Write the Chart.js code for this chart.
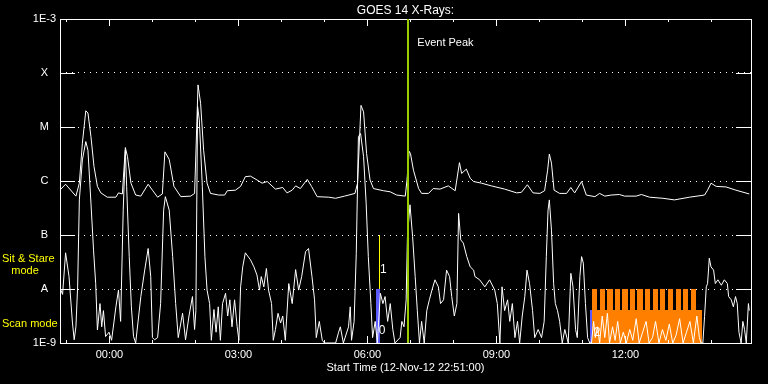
<!DOCTYPE html>
<html>
<head>
<meta charset="utf-8">
<script src="https://cdn.jsdelivr.net/npm/chart.js@4.4.1/dist/chart.umd.min.js"></script>
<style>
  html, body { margin: 0; padding: 0; background: #000; }
  #wrap { width: 768px; height: 384px; }
</style>
</head>
<body>
<div id="wrap"><canvas id="goesChart" width="768" height="384"></canvas></div>
<script>
// GOES 14 flux as log10(W/m^2); time in hours from 00:00 (plot starts 22:51 the day before)
const longHours = [
    -1.13, -1.02, -0.78, -0.70, -0.63, -0.55, -0.50, -0.43, -0.36, -0.28,
    -0.20, -0.05, 0.15, 0.21, 0.30, 0.37, 0.42, 0.50, 0.61, 0.73,
    0.90, 1.00, 1.12, 1.23, 1.29, 1.39, 1.50, 1.66, 1.89, 1.98,
    2.01, 2.06, 2.12, 2.19, 2.27, 2.35, 2.54, 2.68, 2.74, 2.93,
    3.05, 3.16, 3.28, 3.43, 3.55, 3.67, 3.86, 4.03, 4.13, 4.25,
    4.33, 4.44, 4.60, 4.70, 4.83, 5.10, 5.26, 5.47, 5.71, 5.77,
    5.85, 5.91, 5.98, 6.06, 6.14, 6.37, 6.53, 6.68, 6.88, 6.92,
    6.97, 7.00, 7.07, 7.19, 7.26, 7.42, 7.53, 7.69, 7.88, 8.04,
    8.14, 8.19, 8.30, 8.39, 8.47, 8.65, 8.88, 9.19, 9.47, 9.58,
    9.72, 9.85, 10.01, 10.12, 10.19, 10.23, 10.28, 10.34, 10.47, 10.63,
    10.73, 10.82, 10.98, 11.09, 11.29, 11.40, 11.52, 11.67, 11.86, 11.98,
    12.25, 12.37, 12.56, 12.87, 13.14, 13.49, 13.84, 13.91, 13.99, 14.11,
    14.34, 14.57, 14.88
];
const longLog = [
    -6.15, -6.06, -6.28, -6.04, -5.30, -4.70, -4.74, -5.18, -5.73, -6.10,
    -6.22, -6.30, -6.30, -6.22, -6.24, -5.38, -5.55, -6.04, -6.26, -6.28,
    -6.06, -6.17, -6.30, -6.24, -5.46, -5.60, -6.10, -6.29, -6.28, -6.23,
    -5.50, -4.22, -4.56, -5.43, -6.04, -6.23, -6.26, -6.26, -6.18, -6.17,
    -6.10, -5.92, -5.91, -5.98, -6.04, -6.01, -6.15, -6.12, -6.22, -6.17,
    -6.09, -6.14, -5.97, -6.10, -6.29, -6.30, -6.32, -6.28, -6.23, -6.04,
    -4.60, -4.72, -5.49, -5.98, -6.14, -6.18, -6.20, -6.26, -6.28, -5.98,
    -5.45, -5.49, -5.80, -6.14, -6.23, -6.23, -6.14, -6.15, -6.09, -6.18,
    -5.66, -5.86, -5.78, -5.95, -6.01, -6.04, -6.09, -6.15, -6.22, -6.21,
    -6.07, -6.22, -6.23, -6.18, -5.80, -5.50, -5.67, -6.17, -6.23, -6.23,
    -6.12, -6.22, -6.01, -6.26, -6.29, -6.23, -6.28, -6.26, -6.25, -6.28,
    -6.28, -6.25, -6.30, -6.32, -6.35, -6.30, -6.26, -6.17, -6.04, -6.10,
    -6.11, -6.17, -6.24
];
const shortHours = [
    -1.13, -1.09, -1.02, -0.94, -0.86, -0.82, -0.78, -0.74, -0.70, -0.63,
    -0.55, -0.50, -0.43, -0.37, -0.32, -0.28, -0.22, -0.18, -0.14, -0.09,
    -0.01, 0.05, 0.15, 0.21, 0.26, 0.32, 0.37, 0.40, 0.46, 0.51,
    0.56, 0.61, 0.73, 0.82, 0.90, 0.96, 1.00, 1.05, 1.12, 1.19,
    1.26, 1.30, 1.39, 1.47, 1.54, 1.60, 1.70, 1.77, 1.85, 1.93,
    1.98, 2.01, 2.05, 2.09, 2.16, 2.22, 2.27, 2.33, 2.37, 2.43,
    2.48, 2.53, 2.58, 2.63, 2.70, 2.75, 2.80, 2.85, 2.91, 2.97,
    3.01, 3.05, 3.10, 3.16, 3.28, 3.36, 3.43, 3.49, 3.53, 3.59,
    3.65, 3.70, 3.77, 3.81, 3.86, 3.92, 3.98, 4.03, 4.09, 4.17,
    4.25, 4.33, 4.40, 4.47, 4.56, 4.63, 4.71, 4.77, 4.81, 4.88,
    4.95, 5.00, 5.26, 5.33, 5.37, 5.44, 5.56, 5.60, 5.63, 5.69,
    5.74, 5.79, 5.84, 5.91, 5.97, 6.02, 6.08, 6.12, 6.18, 6.23,
    6.30, 6.36, 6.41, 6.47, 6.53, 6.59, 6.64, 6.76, 6.80, 6.85,
    6.90, 6.93, 6.99, 7.05, 7.11, 7.16, 7.21, 7.26, 7.32, 7.38,
    7.44, 7.50, 7.57, 7.65, 7.70, 7.77, 7.84, 7.91, 7.96, 8.02,
    8.08, 8.12, 8.17, 8.23, 8.31, 8.39, 8.47, 8.50, 8.61, 8.73,
    8.84, 8.96, 9.02, 9.08, 9.13, 9.19, 9.26, 9.31, 9.37, 9.43,
    9.49, 9.54, 9.60, 9.66, 9.71, 9.77, 9.84, 9.89, 9.97, 10.05,
    10.11, 10.16, 10.20, 10.23, 10.28, 10.33, 10.37, 10.42, 10.47, 10.53,
    10.59, 10.67, 10.73, 10.78, 10.84, 10.88, 10.94, 10.98, 11.02, 11.07,
    11.12, 11.17, 11.21, 11.26, 11.30, 11.35, 11.40, 11.46, 11.52, 11.58,
    11.63, 11.70, 11.76, 11.82, 11.88, 11.95, 12.02, 12.10, 12.17, 12.25,
    12.32, 12.40, 12.48, 12.55, 12.63, 12.70, 12.78, 12.86, 12.94, 13.02,
    13.10, 13.18, 13.26, 13.34, 13.42, 13.50, 13.58, 13.66, 13.72, 13.76,
    13.80, 13.84, 13.88, 13.91, 13.95, 13.99, 14.05, 14.09, 14.15, 14.23,
    14.30, 14.37, 14.40, 14.46, 14.51, 14.56, 14.60, 14.64, 14.69, 14.73,
    14.77, 14.81, 14.86, 14.88
];
const shortLog = [
    -8.02, -8.10, -7.33, -7.77, -8.63, -8.94, -8.70, -7.96, -6.35, -5.61,
    -5.27, -5.43, -6.41, -7.28, -7.90, -8.76, -8.27, -8.70, -8.40, -8.88,
    -8.80, -8.95, -8.33, -8.02, -8.60, -6.54, -5.43, -6.10, -7.40, -8.33,
    -8.88, -9.00, -8.14, -7.65, -7.25, -7.77, -8.90, -8.94, -8.90, -8.27,
    -6.54, -6.29, -6.54, -7.40, -8.27, -8.90, -8.45, -8.94, -8.50, -8.14,
    -8.75, -8.40, -4.62, -4.87, -6.10, -7.40, -8.02, -8.27, -8.95, -8.38,
    -8.80, -8.33, -8.95, -8.27, -8.08, -8.50, -8.20, -8.70, -8.20, -8.70,
    -8.95, -7.96, -7.59, -7.33, -7.46, -7.59, -7.74, -8.02, -7.77, -7.96,
    -7.62, -8.02, -8.27, -8.95, -8.75, -8.45, -8.63, -8.50, -8.95, -7.90,
    -8.27, -7.64, -8.02, -7.77, -7.31, -7.25, -7.77, -8.20, -8.90, -8.60,
    -8.95, -9.00, -9.00, -8.80, -8.70, -9.00, -8.70, -8.33, -8.95, -8.60,
    -7.34, -5.18, -5.12, -5.55, -6.41, -7.40, -8.27, -8.90, -8.60, -9.00,
    -8.08, -8.27, -8.14, -8.60, -8.27, -8.75, -9.00, -8.90, -8.60, -8.70,
    -8.20, -7.03, -6.44, -7.03, -7.77, -8.40, -9.00, -8.60, -9.00, -8.40,
    -8.20, -8.02, -7.83, -7.96, -8.27, -8.20, -7.65, -7.77, -8.14, -8.50,
    -8.27, -6.60, -7.09, -7.15, -7.40, -7.59, -7.65, -7.77, -7.83, -7.96,
    -7.83, -8.02, -8.27, -9.00, -7.96, -8.40, -8.20, -8.60, -8.27, -8.90,
    -8.60, -9.00, -8.50, -8.14, -7.65, -7.90, -8.40, -8.90, -8.75, -8.90,
    -8.60, -7.40, -6.54, -6.35, -6.91, -7.90, -8.27, -8.40, -8.60, -9.00,
    -8.75, -9.00, -7.71, -7.96, -8.75, -8.90, -7.77, -7.40, -7.52, -8.27,
    -8.90, -9.00, -9.00, -8.60, -8.90, -8.70, -9.00, -8.50, -8.90, -8.45,
    -9.00, -8.70, -8.95, -8.60, -9.00, -8.80, -9.00, -8.75, -8.95, -8.55,
    -9.00, -8.80, -8.60, -9.00, -8.90, -8.60, -9.00, -8.75, -8.95, -8.65,
    -9.00, -8.85, -8.55, -9.00, -8.80, -8.60, -9.00, -8.50, -8.90, -9.00,
    -9.00, -8.51, -7.96, -7.90, -7.43, -7.59, -7.65, -7.90, -7.83, -7.93,
    -7.83, -7.90, -8.14, -8.20, -8.33, -8.14, -8.27, -8.80, -9.00, -8.60,
    -8.75, -9.00, -8.27, -8.40
];

const tickHours = [0, 3, 6, 9, 12];
const decadeTicks = [-9, -8, -7, -6, -5, -4, -3];
const decadeLabels = { '-3': '1E-3', '-4': 'X', '-5': 'M', '-6': 'C', '-7': 'B', '-8': 'A', '-9': '1E-9' };

// annotations
const eventPeakHour = 6.95;
const sitStareHour = 6.28;
const blueMarks = [[6.21, 6.29, -8.0], [11.18, 11.23, -8.39]];   // [from, to, top]
const scanStart = 11.23;
const scanEnd = 13.77;
const scanBaseTop = -8.39;
const scanToothTop = -8.0;
const scanToothWidth = 0.12;
const scanTeeth = [11.23, 11.40, 11.58, 11.75, 11.93, 12.11, 12.28, 12.46, 12.63, 12.81, 12.99, 13.17, 13.34, 13.52];
const pointingLabels = [['1', 6.37, -7.65], ['0', 6.34, -8.78], ['2', 11.34, -8.81]];

const FONT = '"Liberation Sans", Arial, sans-serif';
const ORANGE = '#ff8000';
const BLUE = '#5a5aff';
const GREEN = '#99cc00';
const YELLOW = '#ffff00';

Chart.defaults.font.family = FONT;

const toPoints = (hours, values) => hours.map((h, i) => ({ x: h, y: values[i] }));

const overlayPlugin = {
    id: 'goesOverlay',
    beforeDatasetsDraw: (chart) => {
        const { ctx, scales: { x, y } } = chart;
        const bottom = Math.round(y.getPixelForValue(-9)) + 1;
        ctx.save();
        ctx.fillStyle = ORANGE;
        const sx0 = Math.round(x.getPixelForValue(scanStart));
        const sx1 = Math.round(x.getPixelForValue(scanEnd));
        const baseTop = Math.round(y.getPixelForValue(scanBaseTop));
        const toothTop = Math.round(y.getPixelForValue(scanToothTop));
        ctx.fillRect(sx0, baseTop, sx1 - sx0, bottom - baseTop);
        scanTeeth.forEach(h => {
            const a = Math.round(x.getPixelForValue(h));
            const b = Math.round(x.getPixelForValue(h + scanToothWidth));
            ctx.fillRect(a, toothTop, b - a, baseTop - toothTop);
        });
        ctx.fillStyle = BLUE;
        blueMarks.forEach(([h0, h1, top]) => {
            const a = Math.round(x.getPixelForValue(h0));
            const b = Math.round(x.getPixelForValue(h1));
            const t = Math.round(y.getPixelForValue(top));
            ctx.fillRect(a, t, Math.max(b - a, 2), bottom - t);
        });
        ctx.restore();
    },
    afterDatasetsDraw: (chart) => {
        const { ctx, chartArea: { left, right, top, bottom }, scales: { x, y } } = chart;
        ctx.save();

        // frame
        ctx.strokeStyle = '#fff';
        ctx.lineWidth = 1;
        ctx.strokeRect(left + 0.5, top + 0.5, right - left, bottom - top);

        // decade ticks on both sides
        ctx.beginPath();
        decadeTicks.forEach(v => {
            const py = Math.round(y.getPixelForValue(v)) + 0.5;
            ctx.moveTo(left, py); ctx.lineTo(left + 15, py);
            ctx.moveTo(right - 15, py); ctx.lineTo(right, py);
        });
        // hourly ticks, longer every 3 hours
        for (let h = Math.ceil(x.min); h <= x.max; h++) {
            const px = Math.round(x.getPixelForValue(h)) + 0.5;
            const len = h % 3 === 0 ? 7 : 3;
            ctx.moveTo(px, top); ctx.lineTo(px, top + len);
            ctx.moveTo(px, bottom); ctx.lineTo(px, bottom - len);
        }
        ctx.stroke();

        // event peak
        const gx = Math.round(x.getPixelForValue(eventPeakHour));
        ctx.strokeStyle = GREEN;
        ctx.lineWidth = 2;
        ctx.beginPath();
        ctx.moveTo(gx, top); ctx.lineTo(gx, bottom);
        ctx.stroke();

        // sit & stare pointing
        const yx = Math.round(x.getPixelForValue(sitStareHour)) + 0.5;
        ctx.strokeStyle = YELLOW;
        ctx.lineWidth = 1;
        ctx.beginPath();
        ctx.moveTo(yx, Math.round(y.getPixelForValue(-7)));
        ctx.lineTo(yx, Math.round(y.getPixelForValue(-8)));
        ctx.stroke();

        ctx.fillStyle = '#fff';
        ctx.font = '11px ' + FONT;
        ctx.textBaseline = 'middle';
        ctx.textAlign = 'left';
        ctx.fillText('Event Peak', x.getPixelForValue(7.16), y.getPixelForValue(-3.44));
        ctx.textAlign = 'center';
        ctx.font = '12px ' + FONT;
        pointingLabels.forEach(([t, h, v]) => ctx.fillText(t, x.getPixelForValue(h), y.getPixelForValue(v)));

        // mode labels on the left
        ctx.fillStyle = YELLOW;
        ctx.font = '11px ' + FONT;
        ctx.textAlign = 'left';
        ctx.fillText('Sit & Stare', 2, y.getPixelForValue(-7.44));
        ctx.textAlign = 'center';
        ctx.fillText('mode', 25, y.getPixelForValue(-7.67));
        ctx.textAlign = 'left';
        ctx.fillText('Scan mode', 2, y.getPixelForValue(-8.65));
        ctx.restore();
    }
};

const ctx = document.getElementById('goesChart').getContext('2d');
new Chart(ctx, {
    type: 'line',
    data: {
        datasets: [
            {
                label: '1.0-8.0 A',
                data: toPoints(longHours, longLog),
                borderColor: '#fff',
                borderWidth: 1,
                pointRadius: 0,
                tension: 0
            },
            {
                label: '0.5-4.0 A',
                data: toPoints(shortHours, shortLog),
                borderColor: '#fff',
                borderWidth: 1,
                pointRadius: 0,
                tension: 0
            }
        ]
    },
    options: {
        responsive: false,
        animation: false,
        events: [],
        layout: { padding: { left: 0, right: 17, top: 0, bottom: 0 } },
        scales: {
            x: {
                type: 'linear',
                min: -1.15,
                max: 14.92,
                afterBuildTicks: (axis) => { axis.ticks = tickHours.map(v => ({ value: v })); },
                afterFit: (axis) => { axis.height = 41; },
                ticks: {
                    color: '#fff',
                    padding: 5,
                    maxRotation: 0,
                    autoSkip: false,
                    font: { size: 11 },
                    callback: (v) => String(v).padStart(2, '0') + ':00'
                },
                grid: { display: false, drawTicks: false },
                border: { display: false },
                title: {
                    display: true,
                    text: 'Start Time (12-Nov-12 22:51:00)',
                    color: '#fff',
                    font: { size: 11 },
                    padding: { top: 0, bottom: 9 }
                }
            },
            y: {
                type: 'linear',
                min: -9,
                max: -3,
                afterBuildTicks: (axis) => { axis.ticks = decadeTicks.map(v => ({ value: v })); },
                afterFit: (axis) => { axis.width = 60; },
                ticks: {
                    color: '#fff',
                    padding: 4,
                    crossAlign: 'center',
                    font: { size: 11 },
                    callback: (v) => decadeLabels[v]
                },
                grid: { color: '#fff', lineWidth: 1, drawTicks: false },
                border: { display: false, dash: [1, 5] }
            }
        },
        plugins: {
            legend: { display: false },
            tooltip: { enabled: false },
            title: {
                display: true,
                text: 'GOES 14 X-Rays:',
                color: '#fff',
                fullSize: false,
                font: { size: 12, weight: 'normal' },
                padding: { top: 3, bottom: 1.6 }
            }
        }
    },
    plugins: [overlayPlugin]
});
</script>
</body>
</html>
